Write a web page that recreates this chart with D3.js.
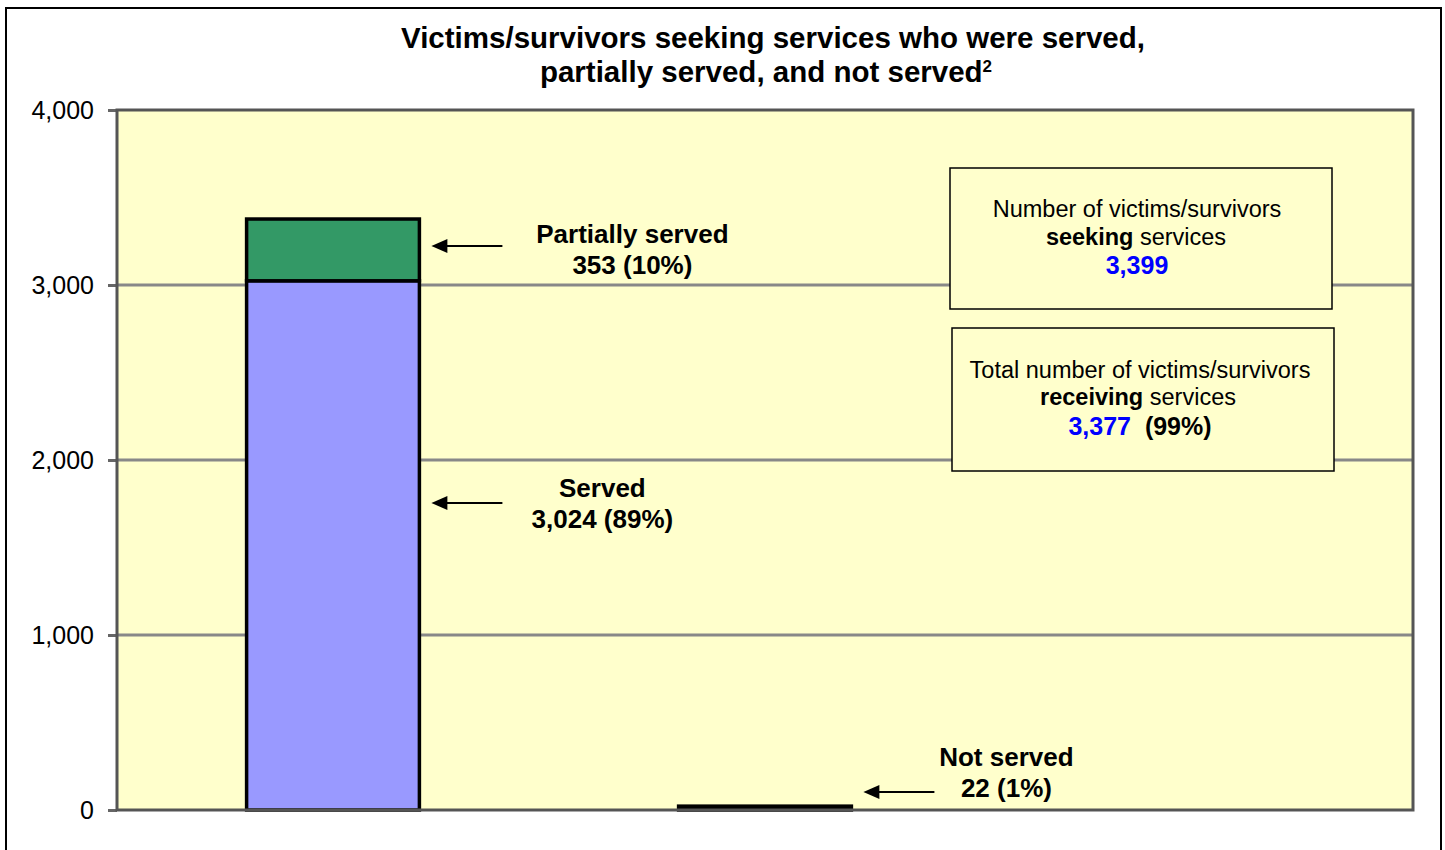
<!DOCTYPE html>
<html>
<head>
<meta charset="utf-8">
<script src="https://cdn.jsdelivr.net/npm/d3@7"></script>
<style>
  body { margin: 0; background: #fff; }
  svg text { font-family: "Liberation Sans", Arial, sans-serif; }
</style>
</head>
<body>
<div id="chart-area"></div>
<script>
// Data
var categories = ['Seeking', 'Not served', 'Totals'];
var served = [3024, 0, 0];
var partiallyServed = [353, 0, 0];
var notServed = [0, 22, 0];
var yTicks = [0, 1000, 2000, 3000, 4000];
var seekingTotal = 3399;
var receivingTotal = 3377;
var receivingPct = '99%';
var calloutNames = ['Partially served', 'Served', 'Not served'];
var calloutTexts = ['353 (10%)', '3,024 (89%)', '22 (1%)'];

var W = 1445, H = 850;
var margin = { left: 117, right: 32, top: 110, bottom: 40 };
var width = W - margin.left - margin.right,
    height = H - margin.top - margin.bottom;

var svg = d3.select('#chart-area')
  .append('svg')
    .attr('width', W)
    .attr('height', H);

// outer frame
svg.append('rect')
  .attr('x', 6).attr('y', 8)
  .attr('width', 1435).attr('height', 860)
  .attr('fill', 'none')
  .attr('stroke', '#000')
  .attr('stroke-width', 2);

// title
var title = svg.append('text')
  .attr('text-anchor', 'middle')
  .attr('font-size', '29.5px')
  .attr('font-weight', 'bold');
title.append('tspan').attr('x', 773).attr('y', 48)
  .text('Victims/survivors seeking services who were served,');
title.append('tspan').attr('x', 766).attr('y', 82)
  .text('partially served, and not served');
title.append('tspan').attr('dy', -10).attr('font-size', '17px').text('2');

var g = svg.append('g')
  .attr('transform', 'translate(' + margin.left + ',' + margin.top + ')');

var x = d3.scaleBand()
  .domain(categories)
  .range([0, width])
  .paddingInner(0.6)
  .paddingOuter(0.3);

var y = d3.scaleLinear()
  .domain([0, 4000])
  .range([height, 0]);

// plot background
g.append('rect')
  .attr('width', width).attr('height', height)
  .attr('fill', '#FFFFCC');

// gridlines
g.append('g')
  .selectAll('line')
  .data(yTicks.filter(function(d) { return d > 0 && d < 4000; }))
  .enter().append('line')
    .attr('x1', 0).attr('x2', width)
    .attr('y1', function(d) { return y(d); })
    .attr('y2', function(d) { return y(d); })
    .attr('stroke', '#888')
    .attr('stroke-width', 3);

// y axis
var yAxisCall = d3.axisLeft(y)
  .tickValues(yTicks)
  .tickSize(9)
  .tickPadding(14)
  .tickFormat(d3.format(','));
var yAxisGroup = g.append('g').call(yAxisCall);
yAxisGroup.select('.domain').remove();
yAxisGroup.selectAll('.tick line').attr('stroke', '#666').attr('stroke-width', 3);
yAxisGroup.selectAll('.tick text')
  .attr('font-size', '25px')
  .attr('fill', '#000')
  .attr('font-family', '"Liberation Sans", Arial, sans-serif');

// stacked bars
var rows = categories.map(function(c, i) {
  return { cat: c, served: served[i], partial: partiallyServed[i], not: notServed[i] };
});
var keys = ['served', 'partial', 'not'];
var colors = { served: '#9999FF', partial: '#339966', not: '#000000' };
var stacked = d3.stack().keys(keys)(rows);

var layers = g.selectAll('.layer')
  .data(stacked)
  .enter().append('g')
    .attr('class', 'layer')
    .attr('fill', function(d) { return colors[d.key]; });

layers.selectAll('rect')
  .data(function(d) { return d.filter(function(p) { return p[1] - p[0] > 0; }); })
  .enter().append('rect')
    .attr('x', function(d) { return x(d.data.cat); })
    .attr('width', x.bandwidth())
    .attr('y', function(d) { return y(d[1]); })
    .attr('height', function(d) { return y(d[0]) - y(d[1]); })
    .attr('stroke', '#000')
    .attr('stroke-width', 3.5);

// plot border
g.append('rect')
  .attr('width', width).attr('height', height)
  .attr('fill', 'none')
  .attr('stroke', '#555')
  .attr('stroke-width', 3);

// callouts: arrow + label next to each segment
var callouts = [
  { cat: 'Seeking', name: calloutNames[0], text: calloutTexts[0], ay: 246, ty: 243, dx: 213 },
  { cat: 'Seeking', name: calloutNames[1], text: calloutTexts[1], ay: 503, ty: 497, dx: 183 },
  { cat: 'Not served', name: calloutNames[2], text: calloutTexts[2], ay: 792, ty: 766, dx: 155 }
];
callouts.forEach(function(c) {
  var x0 = x(c.cat) + x.bandwidth();
  var ay = c.ay - margin.top;
  var tip = x0 + 12;
  g.append('line')
    .attr('x1', tip + 14).attr('x2', x0 + 83)
    .attr('y1', ay).attr('y2', ay)
    .attr('stroke', '#000').attr('stroke-width', 2);
  g.append('path')
    .attr('d', 'M' + tip + ',' + ay + ' L' + (tip + 16) + ',' + (ay - 7) +
               ' L' + (tip + 16) + ',' + (ay + 7) + ' Z')
    .attr('fill', '#000');
  var cx = x0 + c.dx;
  var ty = c.ty - margin.top;
  var lab = g.append('text')
    .attr('text-anchor', 'middle')
    .attr('font-size', '26px')
    .attr('font-weight', 'bold');
  lab.append('tspan').attr('x', cx).attr('y', ty).text(c.name);
  lab.append('tspan').attr('x', cx).attr('y', ty + 31).text(c.text);
});

// info boxes
var fmt = d3.format(',');
var boxes = [
  { x: 950, y: 168, w: 382, h: 141 },
  { x: 952, y: 328, w: 382, h: 143 }
];
boxes.forEach(function(b) {
  svg.append('rect')
    .attr('x', b.x).attr('y', b.y)
    .attr('width', b.w).attr('height', b.h)
    .attr('fill', '#FFFFCC')
    .attr('stroke', '#000')
    .attr('stroke-width', 1.5);
});

function boxText(cx, yy) {
  return svg.append('text')
    .attr('x', cx).attr('y', yy)
    .attr('text-anchor', 'middle')
    .attr('font-size', '23.5px')
    .attr('fill', '#000');
}
boxText(1137, 217).text('Number of victims/survivors');
var s2 = boxText(1136, 245);
s2.append('tspan').attr('font-weight', 'bold').text('seeking');
s2.append('tspan').text(' services');
boxText(1137, 274).attr('font-weight', 'bold').attr('fill', '#0000FF').attr('font-size', '25px')
  .text(fmt(seekingTotal));

boxText(1140, 378).text('Total number of victims/survivors');
var r2 = boxText(1138, 405);
r2.append('tspan').attr('font-weight', 'bold').text('receiving');
r2.append('tspan').text(' services');
var r3 = boxText(1140, 435).attr('font-weight', 'bold').attr('font-size', '25px');
r3.append('tspan').attr('fill', '#0000FF').text(fmt(receivingTotal));
r3.append('tspan').attr('fill', '#000').text('\u00a0 (' + receivingPct + ')');
</script>
</body>
</html>
